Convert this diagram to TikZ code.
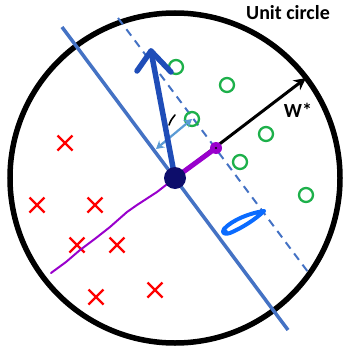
\documentclass[tikz,border=0pt]{standalone}
\usepackage{fontspec}
\setmainfont{Carlito}
\usetikzlibrary{arrows.meta}
\definecolor{sepblue}{HTML}{4472C4}
\definecolor{bigblue}{HTML}{1F4DB8}
\definecolor{lightblue}{HTML}{5B9BD5}
\definecolor{navy}{HTML}{0D0D6B}
\definecolor{purp}{HTML}{9900CC}
\definecolor{grn}{HTML}{1DB04A}
\definecolor{scrib}{HTML}{0A6BFF}
\tikzset{
  posring/.style={draw=grn, line width=2.3pt, circle, minimum size=14pt, inner sep=0pt},
  negcross/.style={red, line width=2.3pt},
  lbl/.style={font=\bfseries\fontsize{20}{20}\selectfont, inner sep=0pt}
}
\newcommand{\crossat}[2]{\draw[negcross] (#1-7.5,#2-7.5) -- (#1+7.5,#2+7.5) (#1-7.5,#2+7.5) -- (#1+7.5,#2-7.5);}
\begin{document}
\begin{tikzpicture}[x=1pt,y=-1pt]
\useasboundingbox (0,0) rectangle (344,348);
\coordinate (O) at (175,178);
% unit circle
\draw[line width=5.5pt] (O) circle (165);
\node[lbl] (uc) at (288,13) {Unit circle};
% separating line and dashed margin
\coordinate (s1) at (62,27);
\coordinate (s2) at (288,330);
\draw[sepblue, line width=3.5pt] (s1) -- (s2);
\coordinate (d1) at (118,18);
\coordinate (d2) at (308,272);
\draw[sepblue, line width=2pt, dash pattern=on 8pt off 6pt] (d1) -- (d2);
% positives
\node[posring] (p1) at (176,67) {};
\node[posring] (p2) at (227,85) {};
\node[posring] (p3) at (192,119) {};
\node[posring] (p4) at (266,134) {};
\node[posring] (p5) at (240,162) {};
\node[posring] (p6) at (306,195) {};
% negatives
\crossat{65}{143}
\crossat{37}{205}
\crossat{95}{205}
\crossat{77}{245}
\crossat{117}{245}
\crossat{96}{297}
\crossat{155}{290}
% W* arrow
\coordinate (wt) at (306,78);
\draw[line width=3pt, -{Stealth[length=12pt,width=12pt]}] (O) -- (wt);
\node[lbl] (wl) at (298,110) {W*};
% purple line
\draw[purp, line width=2pt, line cap=round, line join=round] (51,273) -- (66,262) -- (80,250) -- (96,238) -- (110,227) -- (127,212) -- (137,205) -- (157,192) -- (O);
\coordinate (m) at (216,148);
\draw[purp, line width=5pt, line cap=round] (O) -- (m);
\fill[purp] (m) circle (6);
\fill[black] (m) circle (1.2);
% margin arrow
\draw[lightblue, line width=2.2pt, {Stealth[length=8pt,width=9pt]}-{Stealth[length=8pt,width=9pt]}] (p3.center) -- (156,149);
% small tick
\draw[black, line width=1.6pt, line cap=round] (169,125) .. controls (171,120) .. (175,115);
% big blue arrow
\coordinate (bt) at (151,51);
\draw[bigblue, line width=5.5pt, line cap=round] (O) -- (bt);
\draw[bigblue, line width=5.5pt, line cap=round, line join=round] (137,71) -- (bt) -- (171,72);
% center dot
\fill[navy] (O) circle (11);
% scribble
\draw[scrib, line width=4pt, line cap=round, line join=round] (264,211) .. controls (250,213) and (232,220) .. (224,229) .. controls (221,233) and (225,235) .. (230,233) .. controls (242,228) and (256,219) .. (264,211);
\fill[scrib] (225,232) circle (3);
\end{tikzpicture}
\end{document}
